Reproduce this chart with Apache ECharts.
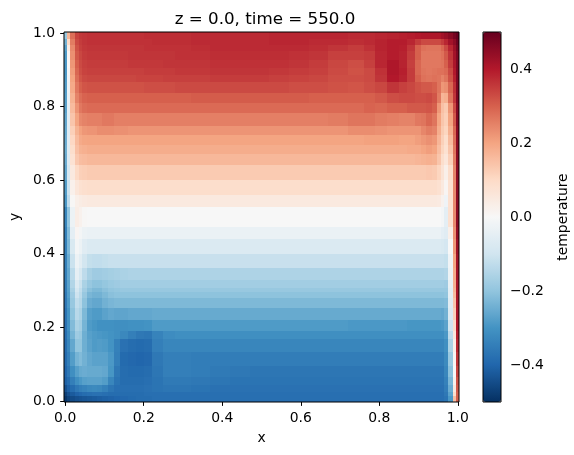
<!DOCTYPE html>
<html>
<head>
<meta charset="utf-8">
<style>html,body{margin:0;padding:0;background:#fff}#chart{width:574px;height:455px}</style>
<script src="https://cdn.jsdelivr.net/npm/echarts@6/dist/echarts.min.js"></script>
</head>
<body>
<div id="chart"></div>
<script>
// Cell boundaries of the stretched mesh, refined towards the walls.
const xEdges = [-0.003,0.005,0.012,0.024,0.034,0.044,0.056,0.068,0.08,0.095,0.11,0.125,0.14,0.16,0.18,0.2,0.22,0.25,0.28,0.32,0.37,0.42,0.47,0.52,0.57,0.62,0.67,0.72,0.76,0.79,0.82,0.85,0.87,0.89,0.905,0.92,0.935,0.946,0.956,0.966,0.976,0.988,0.995,1.003];
const yEdges = [1.003,0.985,0.968,0.95,0.927,0.906,0.887,0.867,0.837,0.81,0.782,0.748,0.723,0.696,0.671,0.642,0.601,0.56,0.528,0.472,0.441,0.4,0.361,0.329,0.308,0.296,0.279,0.252,0.22,0.19,0.169,0.134,0.096,0.066,0.044,0.025,0.012,-0.003];
const xTicks = [0,0.2,0.4,0.6,0.8,1];
const yTicks = [0,0.2,0.4,0.6,0.8,1];
const barTicks = [-0.4,-0.2,0,0.2,0.4];
const colormap = ['#053061','#2166ac','#4393c3','#92c5de','#d1e5f0','#f7f7f7','#fddbc7','#f4a582','#d6604d','#b2182b','#67001f'];

// Temperature in thousandths at z = 0, one row per y band from the top wall down.
const temperature = [
[-190,170,280,340,355,360,365,365,365,365, 365,365,365,365,365,370,370,370,370,375, 375,375,375,380,380,380,380,375,375,380, 385,390,395,400,405,405,405,405,420,435,455,480,500],
[-240,100,260,330,350,360,365,365,365,365, 365,365,365,365,365,365,370,370,370,375, 375,375,375,380,380,375,375,370,375,385, 395,395,380,350,330,330,330,330,350,380,420,450,490],
[-270,40,240,320,345,355,360,360,360,360, 360,360,360,360,360,365,365,365,365,370, 375,375,375,375,375,370,360,350,365,385, 395,390,360,300,275,270,270,270,290,330,380,430,480],
[-285,10,230,310,335,350,355,355,355,355, 355,355,355,360,360,360,360,360,365,365, 370,370,370,370,365,360,345,345,350,380, 395,385,350,300,265,265,265,265,275,310,360,420,470],
[-290,0,220,300,330,345,350,350,350,350, 350,350,350,355,355,355,355,360,360,360, 365,365,365,365,360,350,335,325,345,380, 405,385,345,290,265,265,265,265,270,300,350,410,470],
[-290,-10,210,290,325,340,345,345,345,345, 345,345,345,345,345,350,350,350,355,355, 360,360,360,355,350,345,330,320,330,365, 405,390,350,290,270,265,270,275,275,285,330,400,470],
[-285,-20,200,280,315,330,335,335,335,335, 335,335,335,335,340,340,340,345,345,345, 350,350,350,345,340,335,325,325,330,360, 400,385,350,300,275,270,275,270,250,270,320,390,470],
[-280,-30,190,265,300,315,320,320,320,320, 320,320,320,320,320,325,325,325,330,330, 330,330,330,330,325,325,320,315,325,335, 360,345,335,320,310,310,300,270,220,230,290,370,470],
[-275,-40,175,250,280,295,300,300,300,300, 300,300,300,300,300,300,300,300,300,305, 305,305,305,305,305,300,300,300,300,310, 325,330,330,325,325,330,315,260,170,180,270,360,470],
[-270,-50,160,225,265,280,285,285,285,285, 285,285,285,285,285,285,285,285,285,285, 285,285,285,285,285,285,285,285,295,290, 300,300,310,310,310,315,300,220,150,130,220,330,460],
[-260,-55,140,200,240,250,255,255,255,265, 265,255,255,255,255,255,255,255,255,255, 255,255,255,255,255,255,260,270,270,260, 255,250,250,265,270,290,270,200,140,120,200,310,460],
[-255,-60,120,175,205,220,225,225,235,235, 235,230,230,225,225,225,225,225,225,225, 225,225,225,225,225,225,225,235,235,230, 225,225,225,225,245,260,250,185,130,110,180,290,450],
[-250,-60,105,160,190,198,200,200,200,200, 200,200,200,200,200,200,200,200,200,200, 200,200,200,200,200,200,200,200,205,205, 205,200,200,210,220,230,220,170,120,90,160,280,450],
[-245,-65,90,150,175,180,185,185,185,185, 185,185,185,185,185,185,185,185,185,185, 185,185,185,185,185,185,185,185,185,185, 185,185,190,190,200,210,200,155,110,80,140,270,450],
[-250,-70,75,135,155,160,165,165,165,165, 165,165,165,165,165,165,165,165,165,165, 165,165,165,165,165,165,165,165,165,165, 165,165,165,170,175,180,175,140,90,60,120,260,450],
[-260,-85,50,100,120,125,130,130,130,130, 130,130,130,130,130,130,130,130,130,130, 130,130,130,130,130,130,130,130,130,130, 130,130,130,130,130,135,130,110,70,30,90,250,450],
[-280,-110,25,60,80,85,90,90,90,90, 90,90,90,90,90,90,90,90,90,90, 90,90,90,90,90,90,90,90,90,90, 90,90,90,90,90,90,90,80,50,10,80,240,450],
[-290,-130,5,30,40,45,50,50,50,50, 50,50,50,50,50,50,50,50,50,50, 50,50,50,50,50,50,50,50,50,50, 50,50,50,50,50,50,50,45,20,-20,80,240,450],
[-330,-200,-30,35,20,5,0,0,0,0, 0,0,0,0,0,0,0,0,0,0, 0,0,0,0,0,0,0,0,0,0, 0,0,0,0,0,0,0,0,-10,-50,80,240,450],
[-340,-220,-50,10,-10,-30,-35,-35,-35,-35, -35,-35,-35,-35,-35,-35,-35,-35,-35,-35, -35,-35,-35,-35,-35,-35,-35,-35,-35,-35, -35,-35,-35,-35,-35,-35,-35,-35,-50,-60,30,230,440],
[-340,-230,-80,-10,-30,-60,-75,-75,-75,-75, -75,-75,-75,-75,-75,-75,-75,-75,-75,-75, -75,-75,-75,-75,-75,-75,-75,-75,-75,-75, -75,-75,-75,-75,-75,-75,-75,-75,-80,-90,0,220,430],
[-340,-250,-110,-30,-55,-95,-120,-125,-125,-120, -115,-115,-115,-115,-115,-115,-115,-115,-115,-115, -115,-115,-115,-115,-115,-115,-115,-115,-115,-115, -115,-115,-115,-115,-115,-115,-115,-115,-115,-120,-20,200,420],
[-340,-260,-135,-45,-85,-130,-165,-180,-180,-175, -170,-165,-160,-155,-155,-155,-155,-155,-155,-155, -155,-155,-155,-155,-155,-155,-155,-155,-155,-155, -155,-155,-155,-155,-155,-155,-155,-155,-155,-150,-30,190,420],
[-350,-270,-150,-70,-110,-160,-190,-205,-205,-195, -185,-180,-175,-175,-175,-175,-175,-175,-175,-175, -175,-175,-175,-175,-175,-175,-175,-175,-175,-175, -175,-175,-175,-175,-175,-175,-175,-175,-175,-180,-40,180,410],
[-350,-275,-165,-90,-125,-175,-210,-225,-225,-210, -200,-195,-190,-190,-190,-190,-190,-190,-190,-190, -190,-190,-190,-190,-190,-190,-190,-190,-190,-190, -190,-190,-190,-190,-190,-190,-190,-190,-190,-190,-50,170,410],
[-355,-280,-180,-105,-135,-190,-230,-240,-240,-225, -210,-205,-205,-205,-205,-205,-205,-205,-205,-205, -205,-205,-205,-205,-205,-205,-205,-205,-205,-205, -205,-205,-205,-205,-205,-205,-205,-205,-205,-200,-50,160,410],
[-360,-290,-190,-125,-145,-205,-250,-260,-260,-240, -230,-225,-225,-225,-225,-225,-225,-225,-225,-225, -225,-225,-225,-225,-225,-225,-225,-225,-225,-225, -225,-225,-225,-225,-225,-225,-225,-225,-225,-220,-60,140,410],
[-370,-300,-205,-140,-160,-225,-275,-285,-285,-270, -260,-265,-265,-260,-260,-260,-255,-255,-255,-255, -255,-255,-255,-255,-255,-255,-255,-255,-255,-255, -255,-255,-255,-255,-255,-255,-255,-255,-260,-240,-70,120,410],
[-375,-310,-220,-160,-175,-235,-285,-295,-305,-305, -305,-310,-310,-305,-305,-300,-285,-285,-285,-285, -285,-285,-285,-285,-285,-285,-285,-290,-290,-290, -290,-290,-295,-295,-295,-295,-295,-295,-290,-270,-100,90,400],
[-380,-320,-235,-180,-190,-245,-275,-285,-290,-295, -300,-310,-325,-345,-360,-365,-335,-315,-310,-310, -310,-310,-310,-310,-310,-310,-310,-310,-310,-310, -310,-310,-310,-310,-310,-310,-310,-310,-310,-290,-130,60,390],
[-385,-330,-260,-200,-200,-245,-270,-285,-280,-285, -300,-340,-375,-385,-390,-385,-345,-330,-330,-330, -330,-330,-330,-330,-330,-330,-330,-330,-330,-330, -330,-330,-330,-330,-330,-330,-330,-330,-330,-310,-160,30,380],
[-390,-345,-280,-235,-220,-240,-260,-270,-270,-270, -290,-345,-390,-395,-400,-395,-360,-345,-345,-350, -350,-350,-350,-350,-350,-350,-350,-350,-350,-350, -350,-350,-350,-350,-350,-350,-350,-350,-350,-320,-190,10,360],
[-400,-360,-310,-275,-255,-250,-255,-255,-255,-260, -295,-360,-385,-390,-390,-385,-365,-345,-345,-350, -355,-360,-365,-365,-365,-365,-365,-365,-365,-365, -365,-365,-365,-365,-365,-365,-365,-365,-365,-330,-210,0,340],
[-410,-385,-345,-310,-290,-275,-270,-270,-270,-280, -330,-370,-385,-385,-385,-380,-370,-355,-355,-360, -365,-370,-370,-370,-370,-370,-370,-370,-370,-370, -370,-370,-370,-370,-370,-370,-370,-370,-370,-340,-230,20,320],
[-440,-410,-385,-360,-345,-335,-325,-320,-325,-340, -365,-380,-380,-380,-380,-375,-370,-365,-365,-370, -375,-375,-375,-375,-375,-375,-375,-375,-375,-375, -375,-375,-375,-375,-375,-375,-375,-375,-375,-350,-250,50,310],
[-470,-440,-420,-405,-395,-385,-380,-375,-375,-380, -385,-385,-385,-385,-385,-380,-380,-380,-380,-380, -380,-380,-380,-380,-380,-380,-380,-380,-380,-380, -380,-380,-380,-380,-380,-380,-380,-380,-380,-360,-270,90,300],
[-490,-465,-450,-440,-435,-430,-425,-420,-415,-410, -405,-400,-395,-390,-385,-385,-380,-380,-380,-380, -380,-380,-380,-380,-380,-380,-380,-380,-380,-380, -380,-380,-380,-380,-380,-380,-380,-380,-380,-370,-290,150,300]
];

// One record per mesh cell: x0, x1, y0, y1, value.
const cells = [];
temperature.forEach((row, j) => {
  row.forEach((v, i) => {
    cells.push([xEdges[i], xEdges[i + 1], yEdges[j + 1], yEdges[j], v / 1000]);
  });
});

const FONT = 'DejaVu Sans';
const one = v => Number(v).toFixed(1).replace('-', '\u2212');
const axisCommon = {
  type: 'value',
  splitLine: { show: false },
  axisLine: { show: false },
  axisTick: { show: true, length: 5, inside: false, lineStyle: { color: '#000', width: 1 } },
  axisLabel: { color: '#000', fontFamily: FONT, fontSize: 13.9, formatter: one, margin: 9, showMinLabel: true, showMaxLabel: true },
  nameTextStyle: { color: '#000', fontFamily: FONT, fontSize: 13.9 },
  nameLocation: 'middle'
};

const chart = echarts.init(document.getElementById('chart'), null, { renderer: 'canvas' });
chart.setOption({
  animation: false,
  backgroundColor: '#fff',
  title: {
    text: 'z = 0.0, time = 550.0', left: 260, top: 6, textAlign: 'center',
    textStyle: { color: '#000', fontFamily: FONT, fontSize: 16.7, fontWeight: 'normal' }
  },
  grid: [
    { left: 62, top: 32, width: 397, height: 370, show: true, z: 10, backgroundColor: 'transparent', borderColor: '#000', borderWidth: 1 },
    { left: 483, top: 32, width: 18, height: 370, show: true, z: 10, backgroundColor: 'transparent', borderColor: '#000', borderWidth: 1 }
  ],
  xAxis: [
    Object.assign({}, axisCommon, {
      gridIndex: 0, min: -0.003, max: 1.003, name: 'x', nameGap: 29,
      axisTick: Object.assign({}, axisCommon.axisTick, { customValues: xTicks }),
      axisLabel: Object.assign({}, axisCommon.axisLabel, { customValues: xTicks })
    }),
    { type: 'value', gridIndex: 1, min: 0, max: 1, show: false }
  ],
  yAxis: [
    Object.assign({}, axisCommon, {
      gridIndex: 0, min: -0.003, max: 1.003, name: 'y', nameGap: 40, nameRotate: 90,
      axisTick: Object.assign({}, axisCommon.axisTick, { customValues: yTicks }),
      axisLabel: Object.assign({}, axisCommon.axisLabel, { customValues: yTicks })
    }),
    Object.assign({}, axisCommon, {
      gridIndex: 1, min: -0.5, max: 0.5, position: 'right', name: 'temperature', nameGap: 55, nameRotate: 90,
      axisTick: Object.assign({}, axisCommon.axisTick, { customValues: barTicks }),
      axisLabel: Object.assign({}, axisCommon.axisLabel, { customValues: barTicks })
    })
  ],
  visualMap: {
    type: 'continuous', seriesIndex: 0, dimension: 4, min: -0.5, max: 0.5,
    left: 483, top: 32, itemWidth: 18, itemHeight: 370, padding: 0,
    calculable: false, hoverLink: false, realtime: false, showLabel: false,
    inRange: { color: colormap }, textStyle: { color: 'transparent', fontSize: 1 }
  },
  series: [{
    type: 'custom',
    coordinateSystem: 'cartesian2d',
    xAxisIndex: 0, yAxisIndex: 0,
    data: cells,
    dimensions: ['x0', 'x1', 'y0', 'y1', 'temperature'],
    encode: { x: [0, 1], y: [2, 3] },
    silent: true,
    progressive: 0,
    clip: true,
    renderItem(params, api) {
      const a = api.coord([api.value(0), api.value(3)]);
      const b = api.coord([api.value(1), api.value(2)]);
      const x = Math.round(a[0]), y = Math.round(a[1]);
      return {
        type: 'rect',
        shape: { x, y, width: Math.round(b[0]) - x, height: Math.round(b[1]) - y },
        style: { fill: api.visual('color') }
      };
    }
  }]
});
</script>
</body>
</html>
